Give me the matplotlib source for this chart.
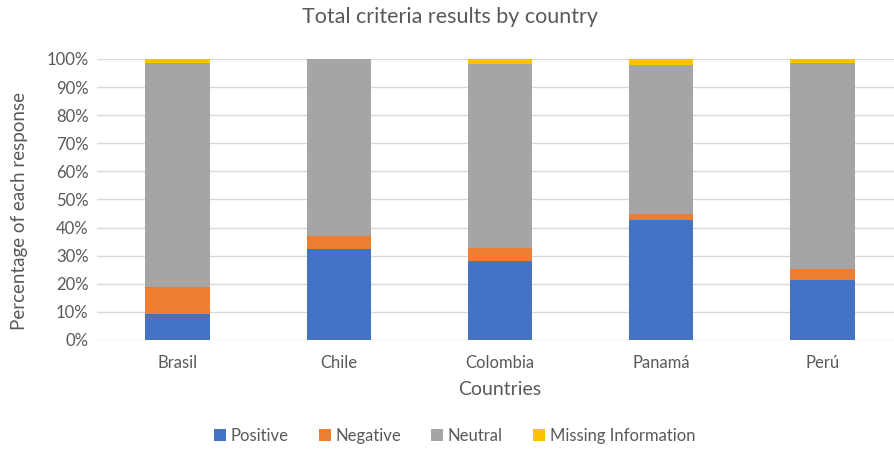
import matplotlib
matplotlib.use("Agg")
import matplotlib.pyplot as plt
import numpy as np

countries = ['Brasil', 'Chile', 'Colombia', 'Panamá', 'Perú']
positive = [9.3, 32.4, 28.2, 42.7, 21.2]
negative = [9.5, 4.6, 4.7, 2.0, 4.1]
neutral = [79.7, 63.0, 65.2, 53.2, 73.1]
missing = [1.5, 0.0, 1.9, 2.1, 1.6]

series = [('Positive', positive, '#4472C4'),
          ('Negative', negative, '#ED7D31'),
          ('Neutral', neutral, '#A5A5A5'),
          ('Missing Information', missing, '#FFC000')]

plt.rcParams['font.family'] = ['Lato', 'DejaVu Sans']
grey = '#595959'

fig = plt.figure(figsize=(8.95, 4.49), dpi=100)
ax = fig.add_axes([0.1084, 0.2428, 0.9006, 0.6258])

x = np.arange(len(countries))
bottom = np.zeros(len(countries))
for name, vals, col in series:
    vals = np.array(vals) / 100
    ax.bar(x, vals, 0.4, bottom=bottom, color=col, label=name, zorder=2)
    bottom += vals

ax.set_xlim(-0.5, 4.5)
ax.set_ylim(0, 1)
ax.set_yticks(np.arange(0, 1.01, 0.1))
ax.set_yticklabels(['%d%%' % (v * 100) for v in np.arange(0, 1.01, 0.1)])
ax.set_xticks(x)
ax.set_xticklabels(countries)
ax.grid(axis='y', color='#D9D9D9', linewidth=1, zorder=0)
for s in ax.spines.values():
    s.set_visible(False)
ax.tick_params(length=0, colors=grey, labelsize=12)
ax.tick_params(axis='x', pad=11)
ax.tick_params(axis='y', pad=6)

ax.set_ylabel('Percentage of each response', color=grey, fontsize=13.5, labelpad=13, y=0.46)
ax.set_xlabel('Countries', color=grey, fontsize=14, labelpad=7)
fig.text(0.503, 0.962, 'Total criteria results by country', ha='center', va='center',
         color=grey, fontsize=15.5)

fig.legend(loc='center', bbox_to_anchor=(0.508, 0.029), ncol=4, frameon=False,
           fontsize=12, labelcolor=grey, handlelength=0.7, handleheight=0.7,
           handletextpad=0.3, columnspacing=1.8)

fig.savefig('out.png', dpi=100)
